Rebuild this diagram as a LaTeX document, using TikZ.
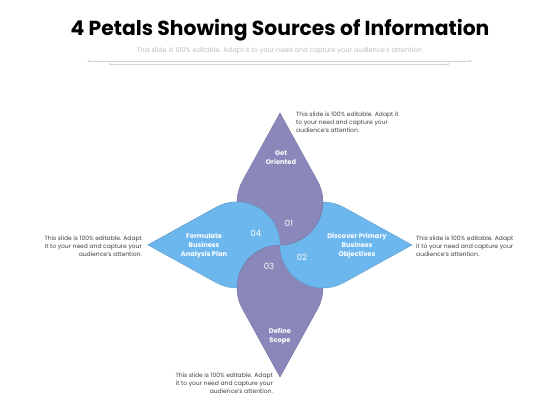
\documentclass[tikz,border=0pt]{standalone}
\usepackage{fontspec}
\setmainfont{Poppins}
\usepackage{tikz}
\usetikzlibrary{arrows.meta}
\definecolor{petalpurple}{HTML}{8A87BB}
\definecolor{petalblue}{HTML}{6DB7EF}
\definecolor{notegray}{HTML}{404040}
\definecolor{rulegray}{HTML}{D2D2D2}
\def\petal[#1](#2){\begin{scope}[shift={(280,175)}, rotate=#2]
\draw[#1] (0,132) -- (37.64,63.78) arc[start angle=28.9, end angle=-208.9, radius=43] -- cycle;
\end{scope}}
\tikzset{
  purplepetal/.style={fill=petalpurple, draw=petalpurple!85!black, line width=0.4pt},
  bluepetal/.style={fill=petalblue, draw=petalblue!85!black, line width=0.4pt},
  petaltext/.style={text=white, font=\bfseries\fontsize{6.7}{9.2}\selectfont, align=center},
  petalnum/.style={text=white, font=\fontsize{8.5}{9}\selectfont},
  notetext/.style={text=notegray, font=\fontsize{6}{8}\selectfont, inner sep=0pt}
}

\begin{document}
\begin{tikzpicture}[x=1pt, y=1pt]
			%%%%% START %%%%%
			\useasboundingbox[fill=white] (0,0) rectangle (560,420);
			
			\node (title) at (280,390) {\bfseries\fontsize{20.3}{24}\selectfont 4 Petals Showing Sources of Information};
			\node[text=black!25, font=\fontsize{6.6}{8}\selectfont] (subtitle) at (280,369) {This slide is 100\% editable. Adapt it to your need and capture your audience's attention.};
			
			\coordinate (ruleAl) at (87,359);
			\coordinate (ruleAr) at (472,359);
			\coordinate (ruleBl) at (108,356);
			\coordinate (ruleBr) at (450,356);
			\draw[rulegray, line width=0.5pt, {Stealth[length=3pt,width=2.4pt]}-{Stealth[length=3pt,width=2.4pt]}] (ruleAl) -- (ruleAr);
			\draw[rulegray, line width=0.5pt, {Stealth[length=3pt,width=2.4pt]}-{Stealth[length=3pt,width=2.4pt]}] (ruleBl) -- (ruleBr);
			
			\petal[bluepetal](90)
			\petal[purplepetal](180)
			\petal[bluepetal](-90)
			\petal[purplepetal](0)
			\begin{scope}
				\clip (60,175) rectangle (280,380);
				\petal[bluepetal](90)
			\end{scope}
			
			\node[petaltext] (getoriented) at (281,262) {Get\\Oriented};
			\node[petaltext] (discover) at (357,174) {Discover Primary\\Business\\Objectives};
			\node[petaltext] (definescope) at (280,84) {Define\\Scope};
			\node[petaltext] (formulate) at (204,174) {Formulate\\Business\\Analysis Plan};
			
			\node[petalnum] (n01) at (289,197) {01};
			\node[petalnum] (n02) at (302,163) {02};
			\node[petalnum] (n03) at (269,154) {03};
			\node[petalnum] (n04) at (256,187) {04};
			
			\node[notetext, anchor=west, align=left] (notetop) at (296,298) {This slide is 100\% editable. Adapt it\\to your need and capture your\\audience's attention.};
			\node[notetext, anchor=west, align=left] (noteright) at (416,174) {This slide is 100\% editable. Adapt\\it to your need and capture your\\audience's attention.};
			\node[notetext, anchor=east, align=right] (noteleft) at (142,174) {This slide is 100\% editable. Adapt\\it to your need and capture your\\audience's attention.};
			\node[notetext, anchor=east, align=right] (notebottom) at (273,37) {This slide is 100\% editable. Adapt\\it to your need and capture your\\audience's attention.};
			%%%%% END %%%%%
		\end{tikzpicture}
\end{document}
